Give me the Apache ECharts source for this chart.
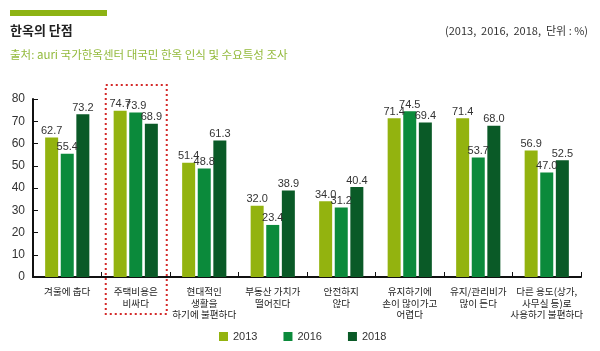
<!DOCTYPE html>
<html>
<head>
<meta charset="utf-8">
<script src="https://cdn.jsdelivr.net/npm/echarts@6/dist/echarts.min.js"></script>
<style>
  html, body { margin: 0; padding: 0; background: #fff; }
  #main { width: 600px; height: 351px; }
</style>
</head>
<body>
<div id="main"></div>
<script>
// 데이터
var categories = ['겨울에 춥다', '주택비용은\n비싸다', '현대적인\n생활을\n하기에 불편하다', '부동산 가치가\n떨어진다',
  '안전하지\n않다', '유지하기에\n손이 많이가고\n어렵다', '유지/관리비가\n많이 든다', '다른 용도(상가,\n사무실 등)로\n사용하기 불편하다'];
var years = ['2013', '2016', '2018'];
var v2013 = [62.7, 74.7, 51.4, 32.0, 34.0, 71.4, 71.4, 56.9];
var v2016 = [55.4, 73.9, 48.8, 23.4, 31.2, 74.5, 53.7, 47.0];
var v2018 = [73.2, 68.9, 61.3, 38.9, 40.4, 69.4, 68.0, 52.5];
var colors = ['#93b30f', '#0b8a3b', '#0a5a27'];
var highlightIndex = 1; // 점선 박스 항목

var numFont = "'Liberation Sans', 'Noto Sans CJK KR', sans-serif";
var krFont = "'Noto Sans CJK KR', sans-serif";

var myChart = echarts.init(document.getElementById('main'));

function makeSeries(name, data, color) {
    return {
        name: name,
        type: 'bar',
        data: data,
        barWidth: 13,
        barGap: '20%',
        itemStyle: { color: color },
        label: {
            show: true,
            position: 'top',
            distance: 1,
            color: '#333',
            fontSize: 11,
            fontFamily: numFont,
            formatter: function (p) { return p.value.toFixed(1); }
        }
    };
}

var option = {
    animation: false,
    color: colors,
    title: [{
        text: '한옥의 단점',
        left: 10, top: 24, padding: 0,
        textStyle: { fontSize: 13, fontWeight: 'bold', color: '#222', fontFamily: krFont }
    }, {
        text: '(2013,  2016,  2018,  단위 : %)',
        right: 12, top: 25, padding: 0,
        textStyle: { fontSize: 11, fontWeight: 'normal', color: '#333', fontFamily: krFont }
    }, {
        text: '출처: auri 국가한옥센터 대국민 한옥 인식 및 수요특성 조사',
        left: 10, top: 49, padding: 0,
        textStyle: { fontSize: 11.5, fontWeight: 'normal', color: '#93ba3c', fontFamily: krFont }
    }],
    legend: {
        data: years,
        bottom: 4,
        left: 214,
        itemWidth: 9,
        itemHeight: 9,
        itemGap: 26,
        icon: 'rect',
        textStyle: { fontSize: 11, color: '#333', fontFamily: numFont }
    },
    grid: { left: 33, right: 19, top: 99, bottom: 74 },
    xAxis: {
        type: 'category',
        data: categories,
        axisLine: { lineStyle: { color: '#111', width: 2 } },
        axisTick: { show: true, inside: true, length: 5, lineStyle: { color: '#111' } },
        axisLabel: {
            interval: 0,
            margin: 9,
            fontSize: 9.6,
            lineHeight: 11.5,
            color: '#222',
            fontFamily: krFont
        }
    },
    yAxis: {
        type: 'value',
        min: 0, max: 80, interval: 10,
        splitLine: { show: false },
        axisLine: { show: true, lineStyle: { color: '#111', width: 2 } },
        axisTick: { show: true, inside: true, length: 5, lineStyle: { color: '#111' } },
        axisLabel: { fontSize: 12, color: '#333', margin: 8, fontFamily: numFont }
    },
    series: [
        makeSeries(years[0], v2013, colors[0]),
        makeSeries(years[1], v2016, colors[1]),
        makeSeries(years[2], v2018, colors[2])
    ]
};

myChart.setOption(option);

// 강조 점선 박스 (축 좌표로 위치 계산)
var cx = myChart.convertToPixel({ xAxisIndex: 0 }, highlightIndex);
var yTop = myChart.convertToPixel({ yAxisIndex: 0 }, 80) - 14;
var yBot = myChart.convertToPixel({ yAxisIndex: 0 }, 0) + 37;
myChart.setOption({
    graphic: [{
        type: 'rect',
        shape: { x: cx - 30, y: yTop, width: 61, height: yBot - yTop },
        style: { fill: 'none', stroke: '#d42a2a', lineWidth: 2, lineDash: [2, 3] },
        z: 10
    }, {
        type: 'rect',
        shape: { x: 10, y: 10, width: 97, height: 6 },
        style: { fill: '#8db314' }
    }]
});
</script>
</body>
</html>
